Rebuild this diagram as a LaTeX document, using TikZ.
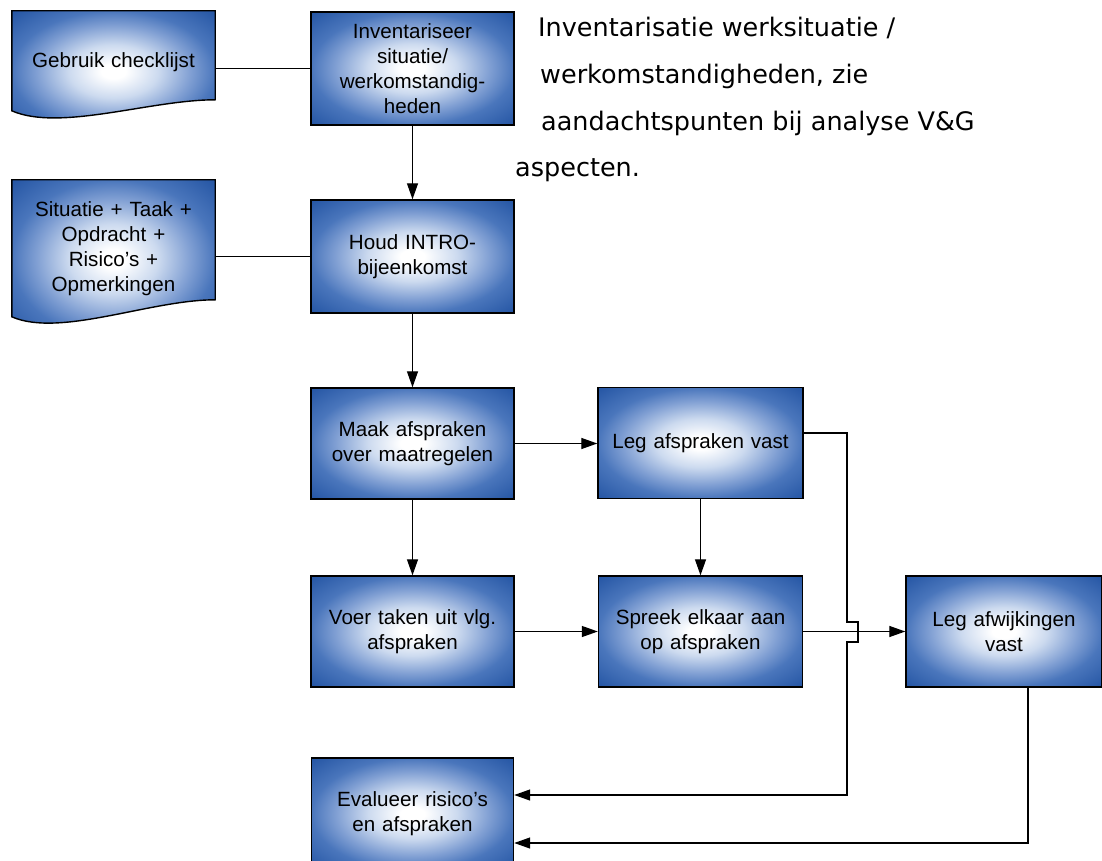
\documentclass[tikz,border=0pt]{standalone}
\usepackage{fontspec}
\setmainfont{Liberation Sans}
\newfontfamily\annfont{DejaVu Sans}
\usetikzlibrary{arrows.meta,calc}
\definecolor{shA}{HTML}{CCDAEF}
\definecolor{shB}{HTML}{809FD3}
\definecolor{shC}{HTML}{4A76BC}
\definecolor{shD}{HTML}{2253A2}
\pgfdeclareradialshading{boxshade}{\pgfpoint{0bp}{0bp}}{color(0bp)=(white); color(3bp)=(white); color(11bp)=(shA); color(19bp)=(shB); color(25bp)=(shC); color(36bp)=(shD); color(50bp)=(shD)}
\pgfdeclarelayer{bg}
\pgfsetlayers{bg,main}
\begin{document}
\begin{tikzpicture}[x=1pt,y=-1pt,
  box/.style={draw=black, line width=1.4pt, shade, shading=boxshade, minimum width=203pt, minimum height=111pt, inner sep=0pt, align=center, text width=196pt, font=\fontsize{20.6}{25}\selectfont},
  doctext/.style={inner sep=0pt, minimum width=203pt, align=center, text width=196pt, font=\fontsize{20.6}{25}\selectfont},
  docline/.style={draw=black, line width=1.4pt, shade, shading=boxshade},
  conn/.style={line width=1.3pt},
  arr/.style={conn, -{Triangle[length=16pt,width=11pt]}},
  ann/.style={anchor=base west, inner sep=0pt, font=\annfont\fontsize{25.5}{30}\selectfont}]
\useasboundingbox (0,0) rectangle (1102,861);

% documents
\node[doctext, minimum height=102pt] (docA) at (113.5,62) {Gebruik checklijst};
\node[doctext, minimum height=138pt] (docB) at (113.5,249) {Situatie + Taak +\\Opdracht +\\Risico’s +\\Opmerkingen};
\begin{pgfonlayer}{bg}
\path[docline] (docA.north west) -- (docA.north east) -- ($(docA.north east)+(0,89)$)
  .. controls ($(docA.north east)+(-65,89)$) and ($(docA.north west)+(48,121)$) .. ($(docA.north west)+(0,100)$) -- cycle;
\path[docline] (docB.north west) -- (docB.north east) -- ($(docB.north east)+(0,120)$)
  .. controls ($(docB.north east)+(-65,120)$) and ($(docB.north west)+(48,158)$) .. ($(docB.north west)+(0,137)$) -- cycle;
\end{pgfonlayer}

% process boxes
\node[box, minimum height=113pt] (inv) at (412.5,68.5) {Inventariseer\\situatie/\\werkomstandig-\\heden};
\node[box, minimum height=113pt] (houd) at (412.5,256.5) {Houd INTRO-\\bijeenkomst};
\node[box] (maak) at (412.5,443.5) {Maak afspraken\\over maatregelen};
\node[box, minimum width=205pt] (legA) at (700.5,443) {Leg afspraken vast};
\node[box] (voer) at (412.5,631.5) {Voer taken uit vlg.\\afspraken};
\node[box, minimum width=204pt] (spreek) at (700.5,631.5) {Spreek elkaar aan\\op afspraken};
\node[box, minimum width=194pt] (legW) at (1004,631.5) {Leg afwijkingen\\vast};
\node[box, minimum width=202pt, minimum height=112pt] (eval) at (412.5,814) {Evalueer risico’s\\en afspraken};

% annotation
\node[ann] (t1) at (538,37) {Inventarisatie werksituatie /};
\node[ann] (t2) at (540,84) {werkomstandigheden, zie};
\node[ann] (t3) at (541,131) {aandachtspunten bij analyse V\&G};
\node[ann] (t4) at (515,177) {aspecten.};

% connectors
\draw[conn] (inv.west) -- (inv.west -| docA.east);
\draw[arr] (inv.south) -- (inv.south |- houd.north);
\draw[conn] (houd.west) -- (houd.west -| docB.east);
\draw[arr] (houd.south) -- (houd.south |- maak.north);
\draw[arr] (maak.east) -- (maak.east -| legA.west);
\draw[arr] (maak.south) -- (maak.south |- voer.north);
\draw[arr] (legA.south) -- (legA.south |- spreek.north);
\draw[arr] (voer.east) -- (voer.east -| spreek.west);
\draw[arr] (spreek.east) -- (spreek.east -| legW.west);
\coordinate (bus) at (847,0);
\draw[arr] ($(legA.east)+(0,-10)$) -| ($(bus)+(0,622)$) -- ++(11,0) -- ++(0,20) -- ++(-11,0) |- ($(eval.east)+(0,-19)$);
\draw[arr] ($(legW.south)+(24,0)$) |- ($(eval.east)+(0,29)$);
\end{tikzpicture}
\end{document}
